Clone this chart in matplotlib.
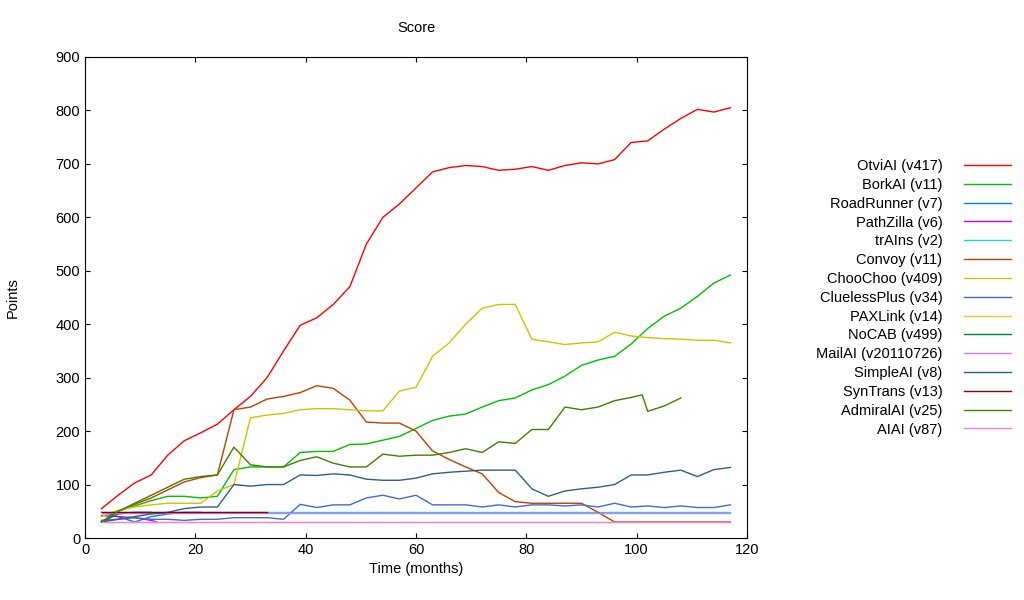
import matplotlib
matplotlib.use("Agg")
import matplotlib.pyplot as plt

months = list(range(3, 118, 3))
otviai = [55,80,103,118,155,182,197,213,240,265,300,350,398,412,437,470,550,600,625,655,685,693,697,695,688,690,695,688,697,702,700,708,740,743,765,785,802,797,805]
borkai = [30,50,60,70,78,78,75,78,128,133,133,133,160,162,162,175,176,183,190,205,220,228,232,245,257,262,277,287,303,323,333,340,363,392,415,430,452,477,492]
convoy = [30,50,63,75,90,105,113,118,240,245,260,265,272,285,280,258,217,215,215,200,163,147,133,120,85,68,65,65,65,65,48,30,30,30,30,30,30,30,30]
choochoo = [40,52,58,62,65,65,65,88,100,225,230,233,240,242,242,240,238,238,275,282,340,365,400,430,437,437,372,367,362,365,367,385,378,375,373,372,370,370,365]
simpleai = [30,35,40,45,48,55,58,58,100,97,100,100,118,117,120,118,110,108,108,112,120,123,125,127,127,127,92,78,88,92,95,100,118,118,123,127,115,128,132]
clueless = [33,35,38,35,35,33,35,35,38,38,38,35,63,57,62,62,75,80,73,80,62,62,62,58,62,58,62,62,60,62,58,65,58,60,57,60,57,57,62]
trains = [48]*39
mailai = [47]*39
aiai = [30]*39
paxlink = [30]*39
admiral_months = [3,6,9,12,15,18,21,24,27,30,33,36,39,42,45,48,51,54,57,60,63,66,69,72,75,78,81,84,87,90,93,96,99,101,102,105,108]
admiral = [30,50,65,80,95,110,115,118,170,137,133,133,145,152,140,133,133,157,153,155,155,160,167,160,180,177,203,203,245,240,245,257,263,268,237,247,262]
syn_months = [3,6,9,12,15,18,21,24,27,30,33]
syntrans = [48]*11
pz_months = [3,6,9,12,13]
pathzilla = [42,40,38,33,30]
rr_months = [3,6,9,12,15,18,21]
roadrunner = [48,40,30,40,45,48,48]
nocab_months = [3,6,9,12]
nocab = [30,45,48,48]

series = [
    ("OtviAI (v417)", months, otviai, "#ff0000"),
    ("BorkAI (v11)", months, borkai, "#00c000"),
    ("RoadRunner (v7)", rr_months, roadrunner, "#0080e0"),
    ("PathZilla (v6)", pz_months, pathzilla, "#c000ff"),
    ("trAIns (v2)", months, trains, "#20d8e0"),
    ("Convoy (v11)", months, convoy, "#c04000"),
    ("ChooChoo (v409)", months, choochoo, "#c8c800"),
    ("CluelessPlus (v34)", months, clueless, "#4169e1"),
    ("PAXLink (v14)", months, paxlink, "#ffc020"),
    ("NoCAB (v499)", nocab_months, nocab, "#008040"),
    ("MailAI (v20110726)", months, mailai, "#c080ff"),
    ("SimpleAI (v8)", months, simpleai, "#306080"),
    ("SynTrans (v13)", syn_months, syntrans, "#8b0000"),
    ("AdmiralAI (v25)", admiral_months, admiral, "#408000"),
    ("AIAI (v87)", months, aiai, "#ee82ee"),
]

plt.rcParams["font.family"] = "Liberation Sans"
fig = plt.figure(figsize=(10.24, 6), dpi=100)
ax = fig.add_axes([85/1024, 62/600, 662/1024, 481/600])
for name, x, y, c in series:
    ax.plot(x, y, color=c, lw=1, label=name)
ax.set_xlim(0, 120)
ax.set_ylim(0, 900)
ax.set_xticks(range(0, 121, 20))
ax.set_yticks(range(0, 901, 100))
ax.tick_params(direction="in", top=True, right=True, labelsize=10.5)
ax.set_xlabel("Time (months)", fontsize=10.5)
ax.set_ylabel("Points", fontsize=10.5, labelpad=26)
ax.set_title("Score", fontsize=10.5, pad=18)
fig.legend(loc="upper left", bbox_to_anchor=(803/1024, 1-146/600), frameon=False,
           markerfirst=False, fontsize=10.5, labelspacing=0.33, handlelength=3.2, handletextpad=1.5)
fig.savefig("out.png")
